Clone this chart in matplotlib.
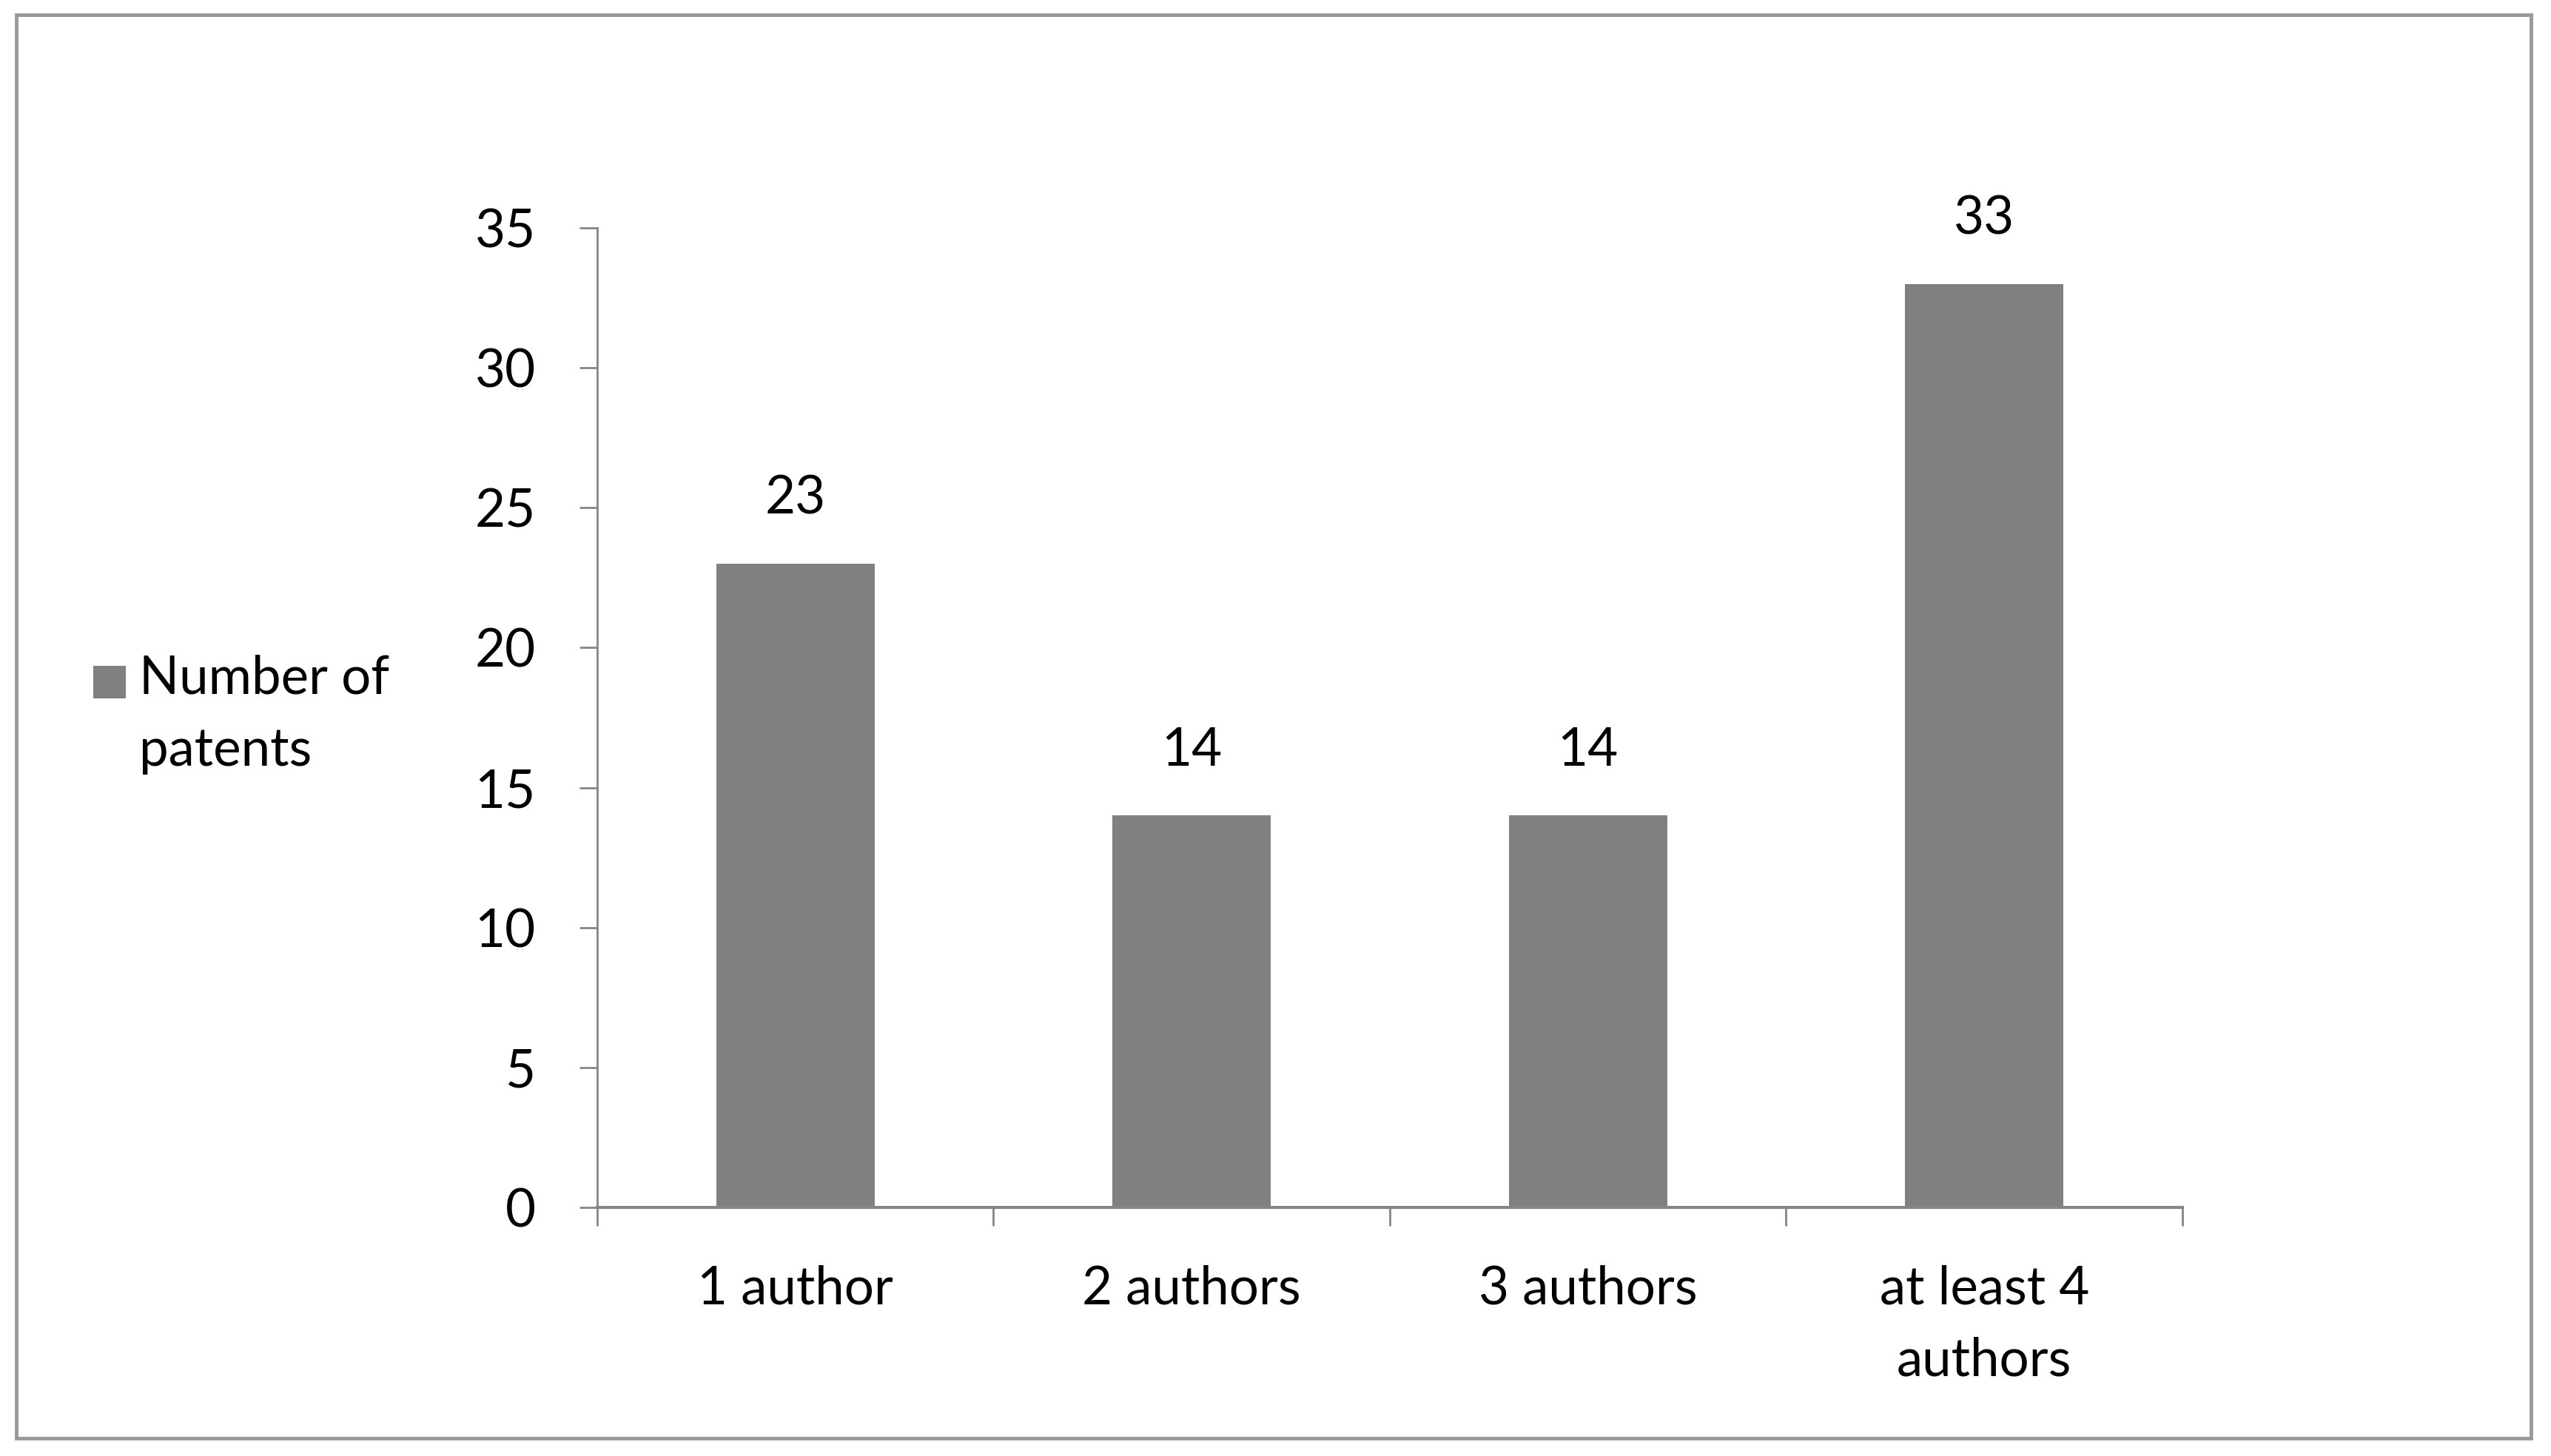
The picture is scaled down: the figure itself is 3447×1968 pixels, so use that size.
import matplotlib
matplotlib.use("Agg")
import matplotlib.pyplot as plt
from matplotlib.patches import Rectangle
from matplotlib.legend_handler import HandlerPatch, update_from_first_child
from matplotlib.container import BarContainer

categories = ["1 author", "2 authors", "3 authors", "at least 4\nauthors"]
values = [23, 14, 14, 33]
series_name = "Number of\npatents"
yticks = [0, 5, 10, 15, 20, 25, 30, 35]

plt.rcParams['font.family'] = ['Lato', 'DejaVu Sans']

W, H = 3448, 1968
FS = 51
fig = plt.figure(figsize=(W / 100, H / 100), dpi=100)
fig.patch.set_facecolor("white")

# outer frame
fig.add_artist(Rectangle((22 / W, 1 - 1944 / H), (3420 - 22) / W, (1944 - 20) / H,
                         transform=fig.transFigure, fill=False,
                         edgecolor="#999999", linewidth=3.5))

ax = fig.add_axes([807 / W, 1 - 1632 / H, (2949 - 807) / W, (1632 - 308) / H])
bar_color = "#808080"
axis_color = "#868686"
pos = list(range(1, len(categories) + 1))
bars = ax.bar(pos, values, width=0.4, color=bar_color, label=series_name, zorder=2)

ax.set_xlim(0.5, len(categories) + 0.5)
ax.set_ylim(0, 35)
ax.set_yticks(yticks)
ax.set_xticks(pos)
ax.set_xticklabels(categories, fontsize=FS, linespacing=1.6)
ax.set_xticks([p + 0.5 for p in range(0, len(categories) + 1)], minor=True)
ax.tick_params(axis="x", which="major", length=0, pad=56, colors="black")
ax.tick_params(axis="x", which="minor", length=18, width=2, color=axis_color, direction="out")
ax.tick_params(axis="y", length=17, width=2, color=axis_color, direction="out",
               labelsize=FS, pad=43)

for s in ["top", "right"]:
    ax.spines[s].set_visible(False)
for s in ["left", "bottom"]:
    ax.spines[s].set_color(axis_color)
ax.spines["left"].set_linewidth(2)
ax.spines["bottom"].set_linewidth(3)

for b, v in zip(bars, values):
    ax.annotate(str(v), (b.get_x() + b.get_width() / 2, v), xytext=(0, 88),
                textcoords="offset pixels", ha="center", va="center", fontsize=FS)

LS = 1.62


def top_square(legend, orig_handle, xdescent, ydescent, width, height, fontsize):
    side = 0.62 * fontsize
    return Rectangle((-xdescent + width - side, -ydescent + 0.66 * fontsize),
                     side, side)


leg = ax.legend(loc="center left", bbox_to_anchor=(91 / W, 1 - 966 / H),
                bbox_transform=fig.transFigure, frameon=False, fontsize=FS,
                handlelength=0.62, handleheight=0.62, handletextpad=0.25,
                borderpad=0,
                handler_map={BarContainer: HandlerPatch(patch_func=top_square,
                                                        update_func=update_from_first_child)})
for t in leg.get_texts():
    t.set_linespacing(LS)

fig.savefig("out.png", dpi=100, facecolor="white")
